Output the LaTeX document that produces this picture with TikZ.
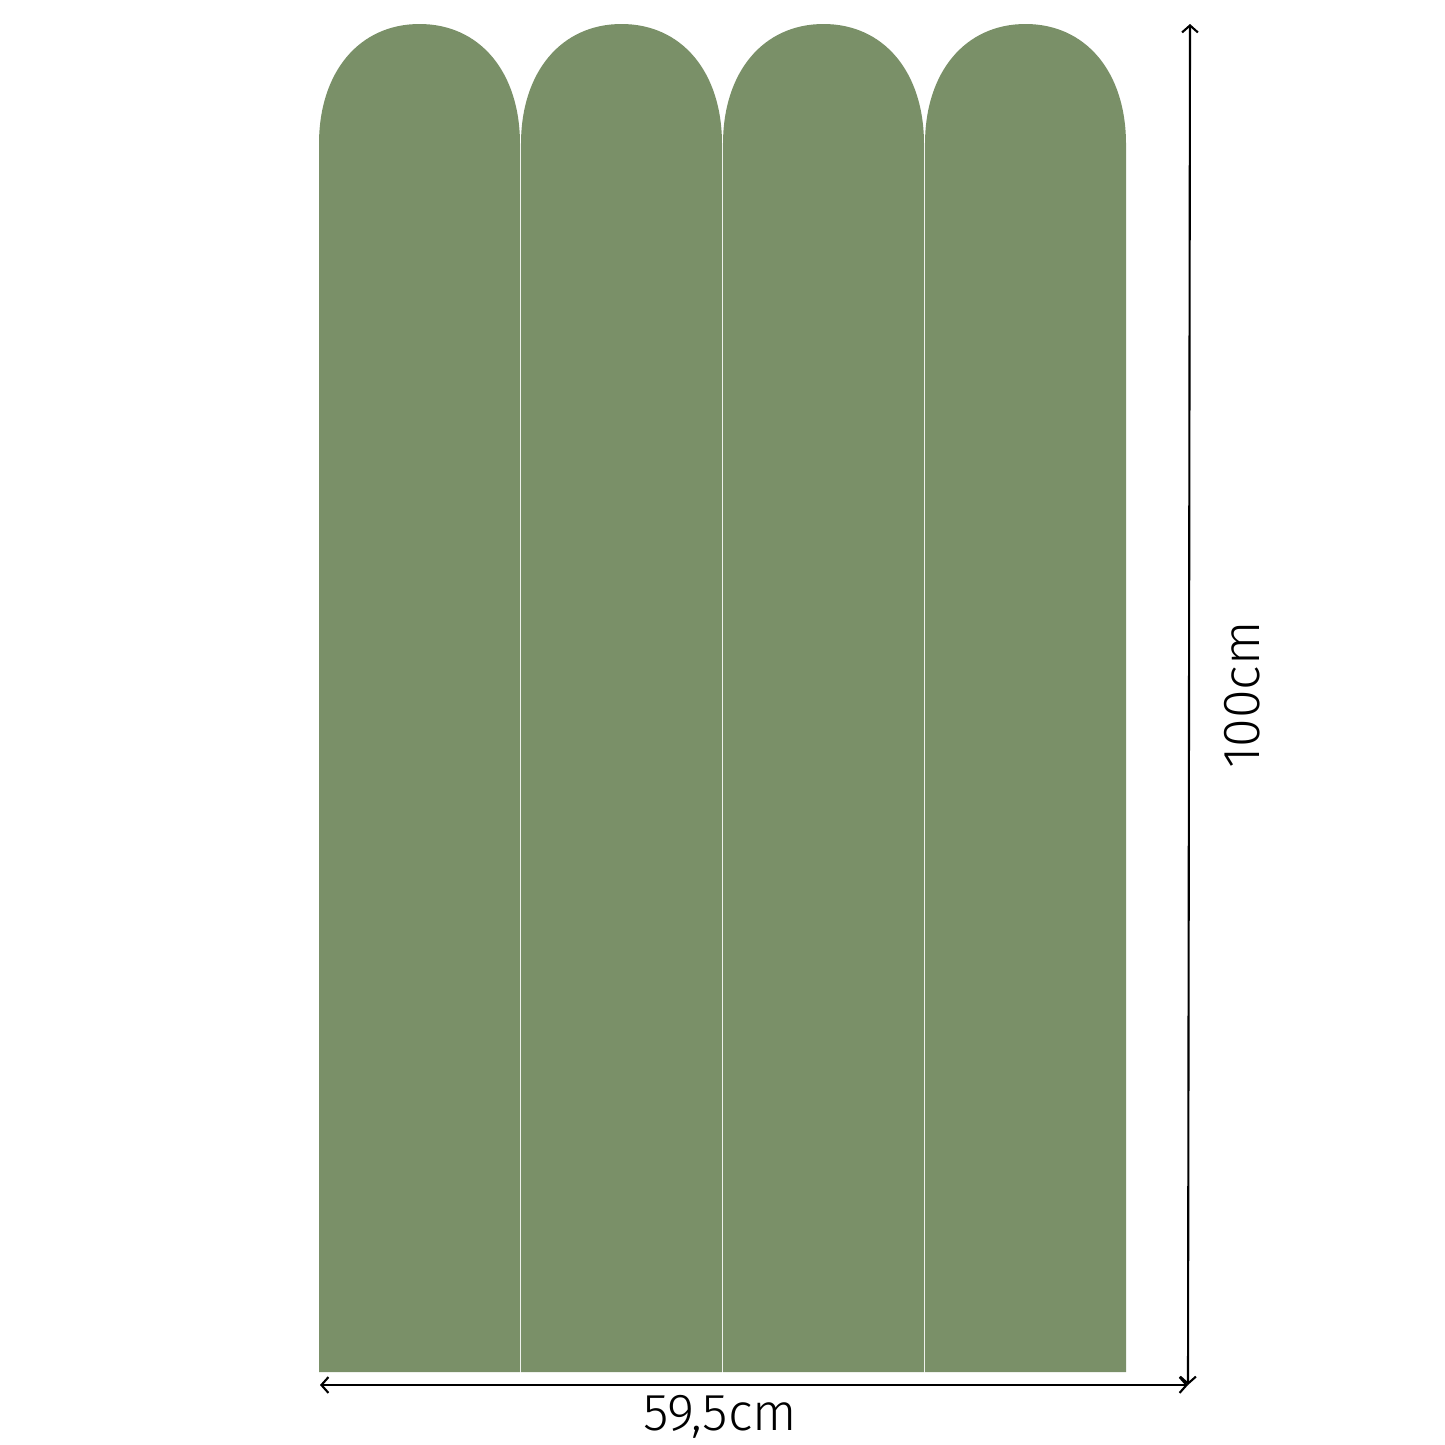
\documentclass[tikz,border=0pt]{standalone}
\usepackage{fontspec}
\setmainfont{Fira Sans}[UprightFont=* Light]
\usetikzlibrary{arrows.meta}
\definecolor{panelgreen}{HTML}{7A9068}
\begin{document}
\begin{tikzpicture}[
    x = 0.01cm,
    y = -0.01cm,
    >={Straight Barb[length=2pt,width=4.5pt]},
    panel/.style = {fill=panelgreen, draw=none},
    dimline/.style = {<->, line width=0.6pt, black},
    dimlabel/.style = {font=\fontsize{14.8}{17}\selectfont, inner sep=0pt},
]
\useasboundingbox (0,0) rectangle (1445,1445);

% arched panels
\foreach \i in {0,1,2,3}{
    \pgfmathsetmacro{\xl}{319+202*\i}
    \fill[panel] (\xl,1372) -- (\xl,144)
        .. controls (\xl,72) and (\xl+40.2,24) .. (\xl+100.5,24)
        .. controls (\xl+160.8,24) and (\xl+201,72) .. (\xl+201,144)
        -- (\xl+201,1372) -- cycle;
}

% dimension lines
\coordinate (w_left) at (320,1385);
\coordinate (w_right) at (1188,1385);
\coordinate (h_top) at (1190,24);
\coordinate (h_bot) at (1188,1385);
\draw [dimline] (w_left) -- (w_right);
\draw [dimline] (h_bot) -- (h_top);

\node[dimlabel] (width_lbl) at (720,1417) {59,5cm};
\node[dimlabel, rotate=90] (height_lbl) at (1242,695) {100cm};

\end{tikzpicture}
\end{document}
